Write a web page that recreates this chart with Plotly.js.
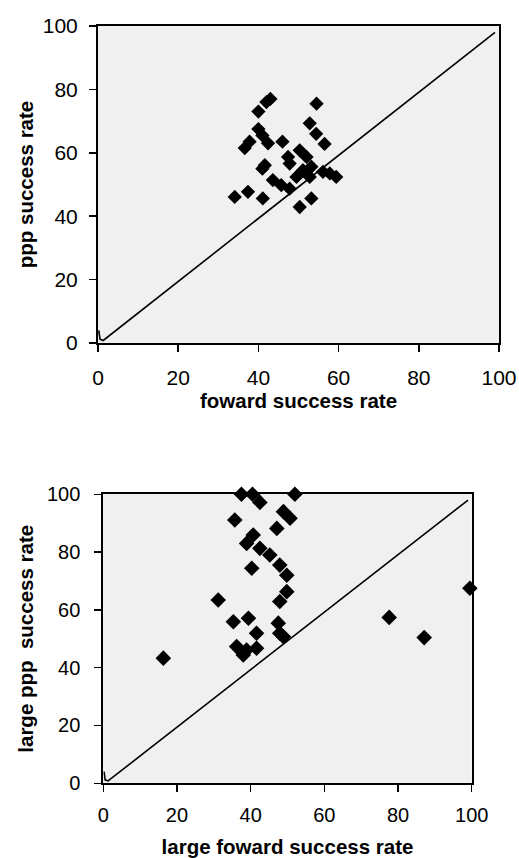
<!DOCTYPE html>
<html>
<head>
<meta charset="utf-8">
<script src="https://cdn.plot.ly/plotly-3.0.1.min.js"></script>
<style>
  html, body { margin: 0; padding: 0; background: #ffffff; }
  #chart { width: 519px; height: 858px; }
</style>
</head>
<body>
<div id="chart"></div>
<script>
// ---- data: top chart (forward vs ppp success rate) ----
var fwdRate = [40, 42, 43, 54.5, 40, 41, 42.4, 36.6, 37.8, 46, 52.8, 54.4, 56.5, 50.3, 52, 47.4, 47.8,
               41.6, 41, 43.6, 45.7, 47.8, 49.5, 51.1, 53.2, 52.8, 56.1, 59.4, 57.8, 34.1, 37.4, 41.1, 50.3, 53.2];
var pppRate = [73, 76, 77, 75.5, 67.5, 65.5, 63, 61.5, 63.5, 63.5, 69.3, 66, 62.8, 60.8, 58.7, 58.7, 56.6,
               56.1, 55, 51.4, 49.8, 48.7, 52.4, 54.5, 55.6, 52.4, 54, 52.4, 53.5, 46.1, 47.7, 45.6, 42.9, 45.6];

// ---- data: bottom chart (large forward vs large ppp success rate) ----
var largeFwdRate = [37.5, 40.5, 42.5, 52, 35.7, 48.9, 50.7, 47.1, 40.7, 38.9, 42.5, 45.2, 47.9, 49.8, 40.3,
                    49.8, 47.9, 31.2, 77.6, 87.1, 99.5, 16.3, 35.3, 39.4, 41.6, 47.5, 47.9, 48.9, 36.2, 38, 41.6, 38.9];
var largePppRate = [100, 100, 97.2, 100, 91.1, 94, 91.7, 88.2, 85.9, 83, 81.3, 79, 75.5, 72, 74.4,
                    66.3, 62.9, 63.4, 57.4, 50.4, 67.5, 43.3, 55.9, 57.1, 51.9, 55.4, 51.9, 50.7, 47.3, 44.4, 46.7, 46.1];

// ---- reference line (x = y) as drawn ----
var diagX = [0.2, 0.5, 1.3, 99];
var diagY = [4, 1.2, 0.8, 98];

var tickVals = [0, 20, 40, 60, 80, 100];
var tickText = ['0', '20', '40', '60', '80', '100'];

var traces = [
  { x: diagX, y: diagY, xaxis: 'x', yaxis: 'y', type: 'scatter', mode: 'lines',
    line: { color: '#000000', width: 1.6 }, hoverinfo: 'skip' },
  { x: fwdRate, y: pppRate, xaxis: 'x', yaxis: 'y', type: 'scatter', mode: 'markers',
    marker: { symbol: 'diamond', size: 11, color: '#000000' } },
  { x: diagX, y: diagY, xaxis: 'x2', yaxis: 'y2', type: 'scatter', mode: 'lines',
    line: { color: '#000000', width: 1.6 }, hoverinfo: 'skip' },
  { x: largeFwdRate, y: largePppRate, xaxis: 'x2', yaxis: 'y2', type: 'scatter', mode: 'markers',
    marker: { symbol: 'diamond', size: 12, color: '#000000' }, cliponaxis: false }
];

var tickFam = 'Liberation Sans, Arial, sans-serif';

function axisBase(extra) {
  var a = {
    range: [0, 100], tickvals: tickVals, ticktext: tickText,
    showgrid: false, zeroline: false, showline: true, mirror: true,
    linecolor: '#000000', linewidth: 2,
    ticks: 'outside', ticklen: 7, tickwidth: 1.5, tickcolor: '#000000',
    tickfont: { family: tickFam, size: 21, color: '#000000' },
    automargin: false, fixedrange: true
  };
  for (var k in extra) a[k] = extra[k];
  return a;
}

var titleFont = { family: tickFam, size: 20.5, color: '#000000', weight: 'bold' };

var layout = {
  width: 519, height: 858,
  margin: { l: 0, r: 0, t: 0, b: 0 },
  paper_bgcolor: '#ffffff',
  plot_bgcolor: '#f0f0f0',
  showlegend: false,
  xaxis: axisBase({ domain: [0.1888, 0.9615], anchor: 'y', ticklabelstandoff: 8,
    title: { text: 'foward success rate', font: titleFont, standoff: 4 } }),
  yaxis: axisBase({ domain: [0.6002, 0.9697], anchor: 'x', ticklabelstandoff: 7,
    title: { text: 'ppp success rate', font: titleFont, standoff: 4 } }),
  xaxis2: axisBase({ domain: [0.199, 0.9089], anchor: 'y2', ticklabelstandoff: 6,
    tickfont: { family: tickFam, size: 20, color: '#000000' },
    title: { text: 'large foward success rate', font: titleFont, standoff: 22 } }),
  yaxis2: axisBase({ domain: [0.0871, 0.4239], anchor: 'x2', ticklabelstandoff: 10,
    tickfont: { family: tickFam, size: 20, color: '#000000' },
    title: { text: 'large ppp  success rate', font: titleFont, standoff: 8 } })
};

Plotly.newPlot('chart', traces, layout, { staticPlot: true, displayModeBar: false });
</script>
</body>
</html>
